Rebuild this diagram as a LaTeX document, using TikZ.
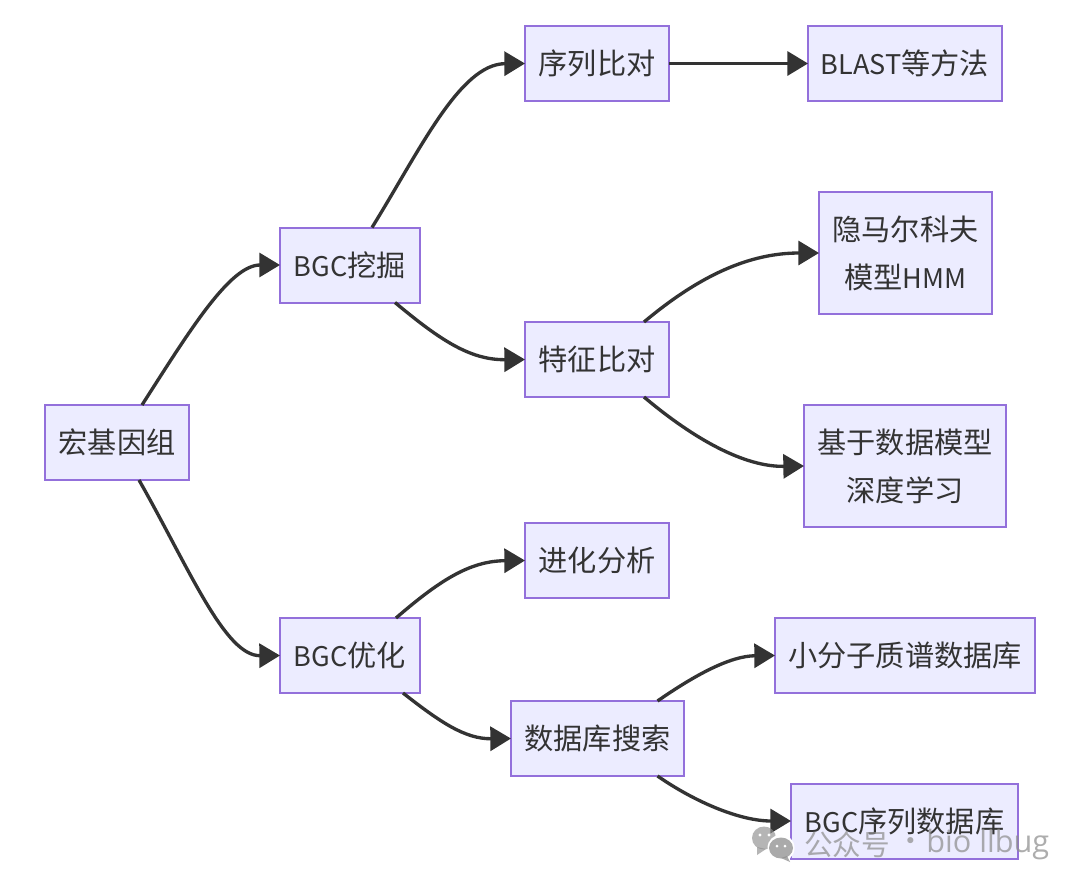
\documentclass[tikz,border=0pt]{standalone}
\usepackage{fontspec}
\setmainfont{Noto Sans CJK SC}
\newfontfamily\wmfont{Open Sans}
\usetikzlibrary{arrows.meta,calc}
\definecolor{nodefill}{HTML}{ECECFF}
\definecolor{nodeline}{HTML}{9370DB}
\definecolor{inkdark}{HTML}{333333}
\definecolor{wmgray}{HTML}{8E8E8E}
\newcommand{\latn}[1]{{\fontsize{20.3}{36}\selectfont #1}}
\tikzset{
  boxnode/.style 2 args={draw=nodeline,fill=nodefill,line width=1.5pt,text=inkdark,
    minimum width=#1*0.75pt,minimum height=#2*0.75pt,inner sep=0pt,outer sep=0pt,
    align=center,font=\fontsize{21.9}{36}\selectfont},
  link/.style={draw=inkdark,line width=2.5pt,
    -{Triangle[length=15.5pt,width=18pt]}},
  wmtext/.style={text=wmgray,text opacity=0.72,inner sep=0pt,anchor=west}
}
\begin{document}
\begin{tikzpicture}[x=0.75pt,y=-0.75pt]
\useasboundingbox (0,0) rectangle (1080,885);
\fill[white] (0,0) rectangle (1080,885);
\node[boxnode={144}{75}] (root) at (117,442.5) {宏基因组};
\node[boxnode={140}{75}] (mine) at (350,265) {\latn{BGC}挖掘};
\node[boxnode={140}{75}] (opt) at (350,655.5) {\latn{BGC}优化};
\node[boxnode={144}{75}] (seq) at (597,63.5) {序列比对};
\node[boxnode={194}{75}] (blast) at (905,63.5) {\latn{BLAST}等方法};
\node[boxnode={144}{75}] (feat) at (597,359.5) {特征比对};
\node[boxnode={173}{122}] (hmm) at (905.5,253) {隐马尔科夫\\模型\latn{HMM}};
\node[boxnode={202}{122}] (deep) at (905,466) {基于数据模型\\深度学习};
\node[boxnode={144}{75}] (evo) at (597,560.5) {进化分析};
\node[boxnode={173}{75}] (dbs) at (597.5,738.5) {数据库搜索};
\node[boxnode={260}{75}] (ms) at (905,655.5) {小分子质谱数据库};
\node[boxnode={227}{75}] (bgcdb) at (904.5,821) {\latn{BGC}序列数据库};

\draw[link] ($(root.north)+(25,0)$) .. controls (190,330) and (230,265) .. (mine.west);
\draw[link] ($(root.south)+(22,0)$) .. controls (190,570) and (225,656) .. (opt.west);
\draw[link] ($(mine.north)+(22,0)$) .. controls (420,150) and (460,64) .. (seq.west);
\draw[link] (seq.east) -- (blast.west);
\draw[link] ($(mine.south)+(45,0)$) .. controls (440,340) and (470,360) .. (feat.west);
\draw[link] ($(feat.north)+(47,0)$) .. controls (700,275) and (750,253) .. (hmm.west);
\draw[link] ($(feat.south)+(47,0)$) .. controls (695,440) and (745,467) .. (deep.west);
\draw[link] ($(opt.north)+(46,0)$) .. controls (440,580) and (470,561) .. (evo.west);
\draw[link] ($(opt.south)+(53,0)$) .. controls (440,722) and (465,739) .. (dbs.west);
\draw[link] ($(dbs.north)+(60,0)$) .. controls (695,675) and (730,656) .. (ms.west);
\draw[link] ($(dbs.south)+(60,0)$) .. controls (695,802) and (740,821) .. (bgcdb.west);

% watermark
\fill[wmgray,opacity=0.65] (764,838) ellipse [x radius=12, y radius=11.5];
\fill[wmgray,opacity=0.65] (757,847) -- (757,855) -- (766,849) -- cycle;
\fill[white] (781,848) circle [radius=13.5];
\fill[wmgray,opacity=0.75] (781,848) ellipse [x radius=12, y radius=10.5];
\fill[wmgray,opacity=0.75] (787,856) -- (790,862) -- (781,858) -- cycle;
\fill[white] (760,835) circle [radius=1.6];
\fill[white] (769,835) circle [radius=1.6];
\fill[white] (777,846) circle [radius=1.5];
\fill[white] (785,846) circle [radius=1.5];
\node[wmtext,font=\fontsize{21.5}{24}\selectfont] (wma) at (804,845) {公众号};
\node[wmtext,font=\fontsize{21.5}{24}\selectfont] (wmb) at (896,845) {·};
\node[wmtext,font=\wmfont\fontsize{23}{24}\selectfont] (wmc) at (926,845) {bio llbug};
\end{tikzpicture}
\end{document}
